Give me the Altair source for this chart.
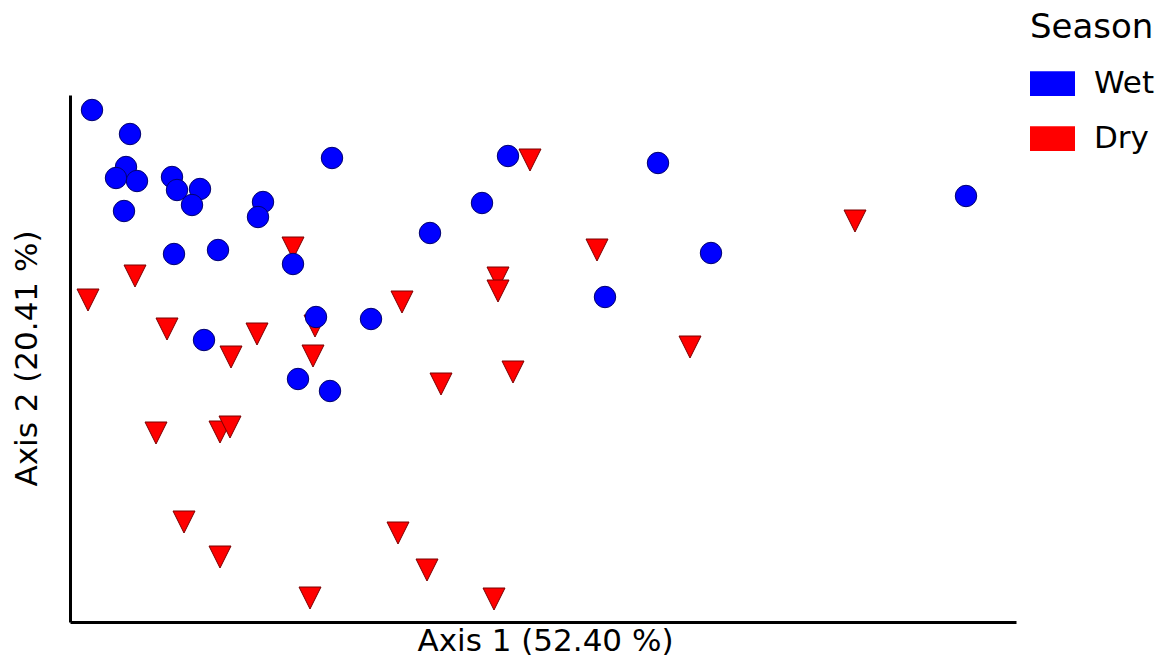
import altair as alt
import pandas as pd

# PCoA ordination scores, wet-season samples
wet_axis1 = [-0.378, -0.340, -0.344, -0.354, -0.333, -0.298, -0.293, -0.270,
             -0.278, -0.346, -0.207, -0.212, -0.296, -0.252, -0.177, -0.138,
             0.038, 0.188, 0.012, -0.040, 0.135, -0.154, -0.099, -0.172,
             -0.140, -0.266, 0.496, 0.241]
wet_axis2 = [0.310, 0.286, 0.253, 0.242, 0.239, 0.243, 0.230, 0.231,
             0.215, 0.209, 0.218, 0.203, 0.166, 0.170, 0.156, 0.262,
             0.264, 0.257, 0.217, 0.187, 0.123, 0.103, 0.101, 0.041,
             0.029, 0.080, 0.224, 0.167]

# PCoA ordination scores, dry-season samples
dry_axis1 = [-0.177, -0.335, -0.382, -0.303, -0.213, -0.155, -0.239, -0.157,
             -0.314, -0.250, -0.240, 0.060, 0.127, 0.028, 0.028, -0.068,
             -0.029, 0.043, 0.385, 0.220, -0.286, -0.250, -0.072, -0.043,
             -0.160, 0.024]
dry_axis2 = [0.172, 0.144, 0.120, 0.091, 0.086, 0.094, 0.063, 0.064,
             -0.013, -0.012, -0.007, 0.260, 0.170, 0.142, 0.129, 0.118,
             0.036, 0.048, 0.199, 0.073, -0.102, -0.137, -0.113, -0.150,
             -0.178, -0.179]

seasons = ["Wet", "Dry"]
fill_colors = ["#0000ff", "#ff0000"]
triangle_down = "M-1,-1L1,-1L0,1Z"
legend_box = "M-1,-0.55H1V0.55H-1Z"

dry = pd.DataFrame({"axis1": dry_axis1, "axis2": dry_axis2, "Season": "Dry"})
wet = pd.DataFrame({"axis1": wet_axis1, "axis2": wet_axis2, "Season": "Wet"})

FONT = "DejaVu Sans"

x_enc = alt.X(
    "axis1:Q",
    scale=alt.Scale(domain=[-0.40, 0.546], nice=False, zero=False),
    axis=alt.Axis(
        title="Axis 1 (52.40 %)", ticks=False, labels=False, grid=False,
        domainColor="black", domainWidth=3,
        titleFont=FONT, titleFontSize=31, titleFontWeight="normal",
        titleColor="black", titleX=475, titleY=28,
        titleBaseline="alphabetic", titleAlign="center",
    ),
)
y_enc = alt.Y(
    "axis2:Q",
    scale=alt.Scale(domain=[-0.202, 0.325], nice=False, zero=False),
    axis=alt.Axis(
        title="Axis 2 (20.41 %)", ticks=False, labels=False, grid=False,
        domainColor="black", domainWidth=3,
        titleFont=FONT, titleFontSize=31, titleFontWeight="normal",
        titleColor="black", titleX=-34, titleY=263, titleAngle=270,
        titleBaseline="alphabetic", titleAlign="center",
    ),
)
color_enc = alt.Color(
    "Season:N",
    scale=alt.Scale(domain=seasons, range=fill_colors),
    legend=alt.Legend(
        title="Season", orient="none", legendX=960, legendY=-84,
        symbolType=legend_box, symbolSize=2025, symbolStrokeWidth=0,
        symbolOpacity=1,
        titleFont=FONT, titleFontSize=34, titleFontWeight="normal",
        titleColor="black", titlePadding=16,
        labelFont=FONT, labelFontSize=31, labelColor="black",
        labelOffset=19, rowPadding=17,
    ),
)

# Dry samples as downward triangles, drawn first
dry_layer = (
    alt.Chart(dry)
    .mark_point(filled=True, opacity=1, size=484, shape=triangle_down,
                stroke="#7a0000", strokeWidth=1)
    .encode(x=x_enc, y=y_enc, color=color_enc)
)

# Wet samples as circles, drawn on top
wet_layer = (
    alt.Chart(wet)
    .mark_point(filled=True, opacity=1, size=460, shape="circle",
                stroke="#00006e", strokeWidth=1)
    .encode(x=x_enc, y=y_enc, color=color_enc)
)

chart = (
    alt.layer(dry_layer, wet_layer)
    .properties(
        width=946,
        height=527,
        autosize=alt.AutoSizeParams(type="none"),
        padding={"left": 70, "top": 95, "right": 150, "bottom": 38},
        background="white",
    )
    .configure_view(stroke=None)
)

chart.save("out.html", embed_options={"renderer": "svg", "actions": False})
